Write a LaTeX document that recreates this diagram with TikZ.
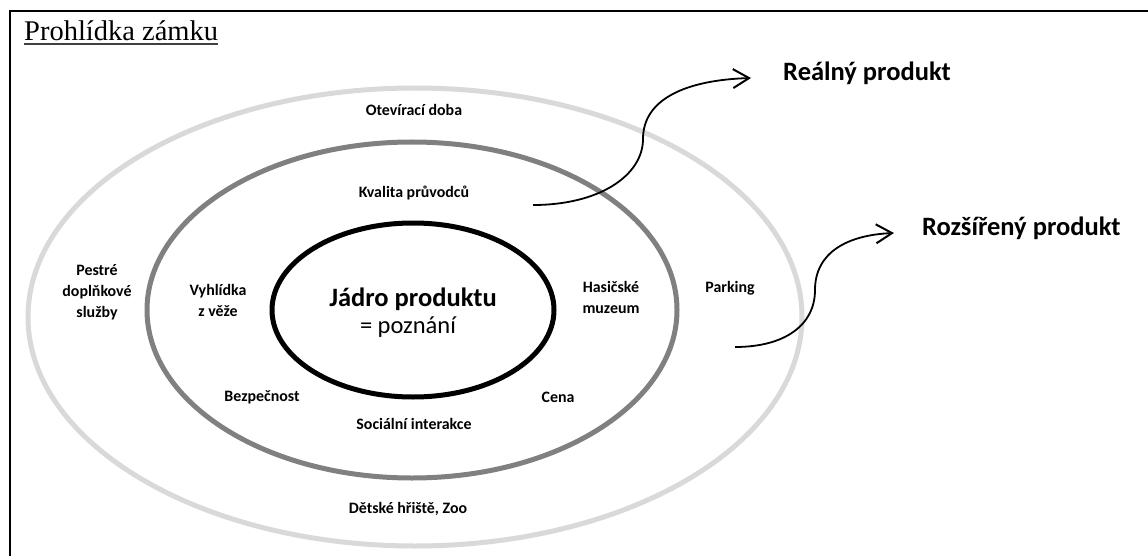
\documentclass[tikz,border=0pt]{standalone}
\usepackage{fontspec}
\setmainfont{Carlito}
\newfontfamily\titlefont{Liberation Serif}
\usetikzlibrary{arrows.meta}
\definecolor{ringlight}{HTML}{D9D9D9}
\definecolor{ringmid}{HTML}{808080}
\tikzset{
  lbl/.style={align=center, inner sep=0pt, font=\bfseries\fontsize{15.9}{21}\selectfont},
  core/.style={align=center, inner sep=0pt},
  big/.style={inner sep=0pt, anchor=west, font=\bfseries\fontsize{26.5}{30}\selectfont},
  ring/.style={line width=5pt},
  flow/.style={line width=1.8pt, -{Straight Barb[length=16pt,width=19pt,line width=2pt]}}
}
\begin{document}
\begin{tikzpicture}[x=1pt,y=-1pt]
\useasboundingbox (0,0) rectangle (1148,556);
\clip (0,0) rectangle (1148,556);
\fill[white] (0,0) rectangle (1148,556);
% frame
\draw[line width=2pt] (10,11) rectangle (1170,580);
% title
\node[inner sep=0pt, anchor=base west, font=\titlefont\fontsize{28.5}{30}\selectfont] (title) at (24,41) {Prohlídka zámku};
\draw[line width=1.3pt, black!75] (title.base west) ++(0,3) -- ([yshift=-3pt]title.base east);
% three product levels
\draw[ring, ringlight] (415,317) ellipse [x radius=387, y radius=229];
\draw[ring, ringmid] (412,310) ellipse [x radius=265, y radius=168];
\draw[ring, black] (413,310) ellipse [x radius=141, y radius=87];
% core
\node[core] (jadro) at (413,299) {\bfseries\fontsize{26.5}{30}\selectfont Jádro produktu};
\node[core] (poznani) at (408,327) {\fontsize{24.5}{28}\selectfont = poznání};
% real product ring
\node[lbl] (kvalita) at (414,193) {Kvalita průvodců};
\node[lbl] (vyhlidka) at (218,300) {Vyhlídka\\z věže};
\node[lbl] (hasicske) at (611,297) {Hasičské\\muzeum};
\node[lbl] (bezpecnost) at (262,397) {Bezpečnost};
\node[lbl] (cena) at (558,397) {Cena};
\node[lbl] (socialni) at (414,424) {Sociální interakce};
% augmented product ring
\node[lbl] (oteviraci) at (414,110) {Otevírací doba};
\node[lbl] (pestre) at (97,292) {Pestré\\doplňkové\\služby};
\node[lbl] (parking) at (730,288) {Parking};
\node[lbl] (detske) at (408,509) {Dětské hřiště, Zoo};
% level names
\node[big] (realny) at (783,73) {Reálný produkt};
\node[big] (rozsireny) at (922,228) {Rozšířený produkt};
% arrows
\coordinate (a1) at (533,205);
\coordinate (a1m) at (643,139);
\coordinate (a1e) at (751,78);
\coordinate (a2) at (735,347);
\coordinate (a2m) at (815,290);
\coordinate (a2e) at (894,233);
\draw[flow] (a1) .. controls (600,205) and (643,175) .. (a1m)
  .. controls (643,98) and (688,80) .. (a1e);
\draw[flow] (a2) .. controls (785,347) and (815,325) .. (a2m)
  .. controls (815,252) and (848,235) .. (a2e);
\end{tikzpicture}
\end{document}
